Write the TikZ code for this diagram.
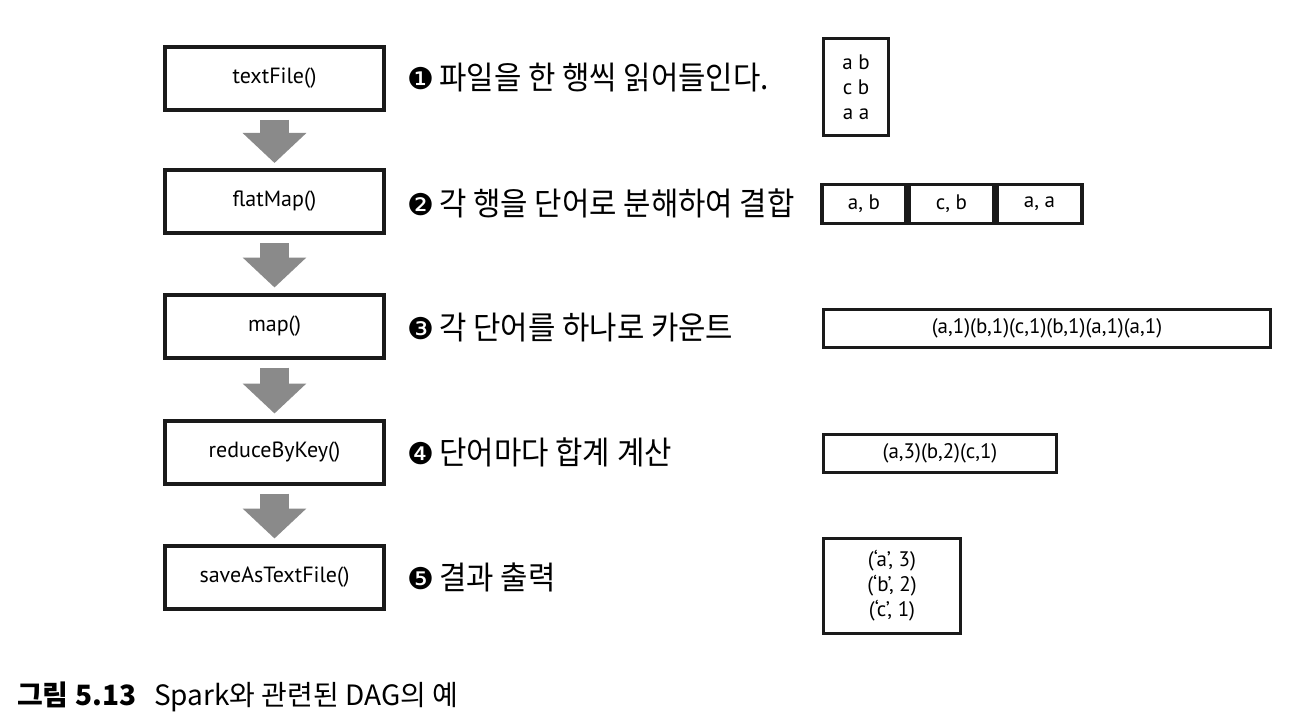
\documentclass[tikz,border=0pt]{standalone}
\usepackage{fontspec}
\setmainfont{PT Sans}
\newfontfamily\korfont[FakeStretch=0.93]{Noto Sans CJK KR}
\newfontfamily\capfont{Noto Sans CJK KR}
\newfontfamily\symfont{DejaVu Sans}
\usetikzlibrary{arrows.meta, positioning}
\definecolor{flowGray}{HTML}{8A8A8A}
\definecolor{lineDark}{HTML}{1A1A1A}

\begin{document}
\begin{tikzpicture}[x=1pt, y=-1pt,
    op/.style={rectangle, draw=lineDark, line width=4pt, minimum width=219pt,
      minimum height=63pt, inner sep=0pt, font=\fontsize{22}{26}\selectfont},
    dat/.style={rectangle, draw=lineDark, line width=3.5pt, inner sep=0pt,
      align=center, font=\fontsize{21}{25}\selectfont},
    desc/.style={anchor=west, inner sep=0pt, font=\fontsize{32}{36}\selectfont\korfont},
    flow/.style={flowGray, line width=29pt, -{Triangle[width=62pt, length=30pt]}}]
    \path[use as bounding box, fill=white] (0,0) rectangle (1292,722);
    % operations
    \node[op] (b1) at (274.5,78.5) {textFile()};
    \node[op] (b2) at (274.5,201.5) {flatMap()};
    \node[op] (b3) at (274.5,326) {map()};
    \node[op] (b4) at (274.5,452) {reduceByKey()};
    \node[op] (b5) at (274.5,577) {saveAsTextFile()};
    \draw[flow] ([yshift=-8pt]b1.south) -- ([yshift=5pt]b2.north);
    \draw[flow] ([yshift=-8pt]b2.south) -- ([yshift=5pt]b3.north);
    \draw[flow] ([yshift=-8pt]b3.south) -- ([yshift=5pt]b4.north);
    \draw[flow] ([yshift=-8pt]b4.south) -- ([yshift=5pt]b5.north);
    % descriptions
    \node[desc] (d1) at (407,78) {{\fontsize{30}{30}\selectfont\symfont ❶}\,파일을 한 행씩 읽어들인다.};
    \node[desc] (d2) at (407,203) {{\fontsize{30}{30}\selectfont\symfont ❷}\,각 행을 단어로 분해하여 결합};
    \node[desc] (d3) at (407,328) {{\fontsize{30}{30}\selectfont\symfont ❸}\,각 단어를 하나로 카운트};
    \node[desc] (d4) at (407,452) {{\fontsize{30}{30}\selectfont\symfont ❹}\,단어마다 합계 계산};
    \node[desc] (d5) at (407,577) {{\fontsize{30}{30}\selectfont\symfont ❺}\,결과 출력};
    % data
    \node[dat, minimum width=65pt, minimum height=97pt] (r1) at (856,87) {a b\\c b\\a a};
    \node[dat, minimum width=84pt, minimum height=39pt] (r2a) at (864,204) {a, b};
    \node[dat, minimum width=84pt, minimum height=39pt, right=0pt of r2a] (r2b) {c, b};
    \node[dat, minimum width=85pt, minimum height=39pt, right=0pt of r2b] (r2c) {a, a};
    \node[dat, minimum width=447pt, minimum height=38pt] (r3) at (1047,328.5) {(a,1)(b,1)(c,1)(b,1)(a,1)(a,1)};
    \node[dat, minimum width=233pt, minimum height=38pt] (r4) at (940,453.5) {(a,3)(b,2)(c,1)};
    \node[dat, minimum width=137pt, minimum height=95pt] (r5) at (892,586) {(‘a’, 3)\\(‘b’, 2)\\(‘c’, 1)};
    % caption
    \node[anchor=base west, inner sep=0pt, font=\fontsize{28}{32}\selectfont\capfont] (cap) at (17,705)
      {{\bfseries 그림 5.13}\hspace{18pt}Spark와 관련된 DAG의 예};
\end{tikzpicture}
\end{document}
